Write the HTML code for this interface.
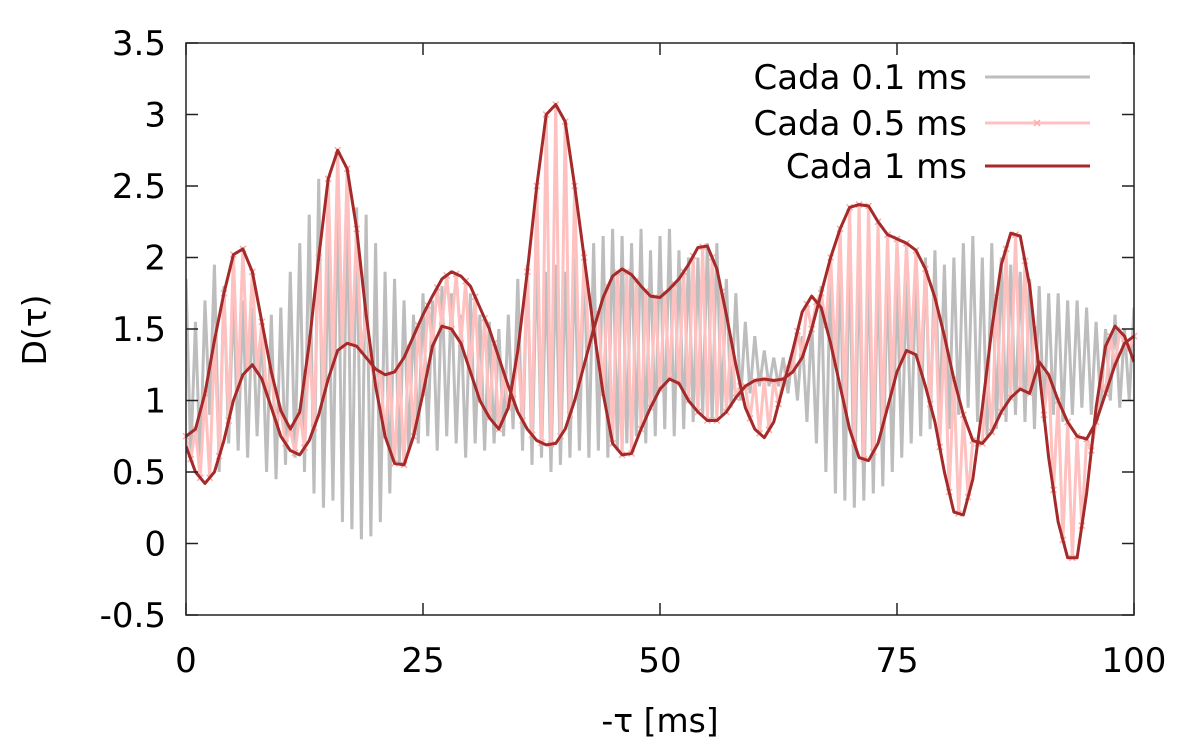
<!DOCTYPE html>
<html><head><meta charset="utf-8"><style>
body{margin:0;background:#fff}
svg{display:block;font-family:"DejaVu Sans","Liberation Sans",sans-serif}
</style></head><body>
<svg id="chart" width="1200" height="750" viewBox="0 0 1200 750" xmlns="http://www.w3.org/2000/svg">
<g id="gray"></g>
<g id="pink"></g>
<g id="dark"></g>
<g id="axes"></g>
<g id="legend"></g>
<text transform="translate(46,330) rotate(-90)" text-anchor="middle" font-size="33">D(τ)</text>
<text x="660" y="732" text-anchor="middle" font-size="33">-τ [ms]</text>
</svg>
<script>
const curveP=[0.68,0.5,0.42,0.5,0.72,1.0,1.18,1.25,1.15,0.95,0.75,0.65,0.62,0.72,0.9,1.15,1.35,1.4,1.38,1.3,1.22,1.18,1.2,1.3,1.45,1.6,1.73,1.85,1.9,1.87,1.8,1.65,1.5,1.3,1.1,0.92,0.8,0.72,0.69,0.7,0.8,1.0,1.25,1.5,1.72,1.87,1.92,1.88,1.8,1.73,1.72,1.78,1.85,1.95,2.07,2.08,1.92,1.6,1.25,0.95,0.8,0.74,0.85,1.1,1.35,1.62,1.73,1.65,1.4,1.1,0.8,0.6,0.58,0.7,0.95,1.2,1.35,1.32,1.1,0.85,0.5,0.22,0.2,0.45,0.95,1.5,1.95,2.17,2.15,1.8,1.2,0.6,0.15,-0.1,-0.1,0.35,0.95,1.38,1.52,1.45,1.27];
const curveQ=[0.75,0.8,1.05,1.42,1.75,2.02,2.06,1.9,1.55,1.2,0.93,0.8,0.92,1.4,2.0,2.55,2.75,2.62,2.2,1.6,1.1,0.75,0.56,0.55,0.75,1.05,1.38,1.52,1.5,1.4,1.2,1.0,0.88,0.8,0.95,1.35,1.9,2.5,3.0,3.07,2.95,2.5,2.0,1.5,1.05,0.7,0.62,0.63,0.8,0.95,1.08,1.15,1.12,1.0,0.92,0.86,0.86,0.92,1.02,1.1,1.14,1.15,1.14,1.15,1.2,1.3,1.5,1.75,2.0,2.2,2.35,2.37,2.36,2.25,2.16,2.13,2.1,2.05,1.92,1.72,1.45,1.15,0.9,0.72,0.7,0.78,0.92,1.02,1.08,1.05,1.27,1.18,1.0,0.85,0.75,0.73,0.85,1.05,1.25,1.4,1.45];
const grayHi=[1.85,1.55,1.7,1.95,1.8,1.75,1.7,1.65,1.55,1.6,1.65,1.9,2.1,2.3,2.55,2.1,2.5,2.45,2.35,2.3,2.1,1.9,1.85,1.7,1.6,1.75,1.7,1.8,1.75,1.6,1.75,1.6,1.55,1.5,1.6,1.85,1.95,2.05,1.9,1.95,1.9,2.0,2.05,2.1,2.15,2.2,2.15,2.1,2.2,2.05,2.15,2.2,2.05,2.0,2.0,2.1,2.1,1.85,1.75,1.55,1.45,1.35,1.3,1.3,1.35,1.45,1.55,1.8,1.95,2.05,2.1,2.05,2.0,1.95,1.9,1.85,1.85,1.9,2.0,2.05,1.95,2.0,2.1,2.15,2.0,2.1,2.0,1.95,1.9,1.85,1.8,1.75,1.75,1.7,1.7,1.65,1.55,1.5,1.6,1.5,1.65,1.0];
const grayLo=[0.6,0.55,0.9,0.5,0.7,0.65,0.6,0.75,0.5,0.45,0.55,0.6,0.5,0.35,0.25,0.3,0.15,0.1,0.03,0.05,0.15,0.35,0.55,0.65,0.7,0.75,0.65,0.75,0.7,0.6,0.7,0.65,0.7,0.75,0.8,0.65,0.55,0.6,0.5,0.55,0.6,0.65,0.6,0.65,0.6,0.65,0.7,0.75,0.7,0.75,0.8,0.75,0.8,0.85,0.9,0.85,0.9,0.95,1.0,1.05,1.1,1.1,1.1,1.05,1.0,0.85,0.7,0.5,0.35,0.3,0.25,0.3,0.35,0.4,0.5,0.6,0.7,0.75,0.8,0.85,0.8,0.9,0.95,0.85,0.75,0.8,0.85,0.9,0.85,0.8,0.85,0.9,0.85,0.9,0.95,0.9,0.95,1.0,0.95,1.0,1.0];
const yTicks=[-0.5,0,0.5,1,1.5,2,2.5,3,3.5];
const xTicks=[0,25,50,75,100];
const legendLabels=["Cada 0.1 ms","Cada 0.5 ms","Cada 1 ms"];

const NS="http://www.w3.org/2000/svg";
const X0=186,X1=1134,YT=43,YB=615;
const sx=t=>X0+(t-0)/(100-0)*(X1-X0);
const sy=v=>YB-(v-(-0.5))/(3.5-(-0.5))*(YB-YT);
function mk(tag,attrs,parent){const e=document.createElementNS(NS,tag);for(const k in attrs)e.setAttribute(k,attrs[k]);parent.appendChild(e);return e;}
const clip=mk('clipPath',{id:'pc'},document.getElementById('chart'));
mk('rect',{x:X0,y:YT,width:X1-X0,height:YB-YT},clip);

let gpts=[];
for(let k=0;k<grayHi.length;k++){gpts.push(sx(k)+','+sy(grayHi[k]));if(k<100)gpts.push(sx(k+0.5)+','+sy(grayLo[k]));}
const gl=mk('polyline',{points:gpts.join(' '),fill:'none',stroke:'#bdbdbd','stroke-width':3,'clip-path':'url(#pc)'},document.getElementById('gray'));



const pg=document.getElementById('pink');
let ppts=[];
for(let k=0;k<curveQ.length;k++){ppts.push([k,curveQ[k]]);if(k<100)ppts.push([k+0.5,(curveP[k]+curveP[k+1])/2]);}
const pl=mk('polyline',{points:ppts.map(p=>sx(p[0])+','+sy(p[1])).join(' '),fill:'none',stroke:'#ffc0c0','stroke-width':3,'clip-path':'url(#pc)'},pg);


ppts.forEach(p=>{const x=sx(p[0]),y=sy(p[1]);
 const m=mk('path',{d:`M${x-3},${y-3}L${x+3},${y+3}M${x-3},${y+3}L${x+3},${y-3}`,stroke:'#ffaaaa','stroke-width':1.5},pg);
 
 });

const dg=document.getElementById('dark');
[curveP,curveQ].forEach((c,i)=>{
 const l=mk('polyline',{points:c.map((v,k)=>sx(k)+','+sy(v)).join(' '),fill:'none',stroke:'#a52a2a','stroke-width':3,'stroke-linejoin':'round','clip-path':'url(#pc)'},dg);
 
 });

const ax=document.getElementById('axes');
const fr=mk('rect',{x:X0,y:YT,width:X1-X0,height:YB-YT,fill:'none',stroke:'#222','stroke-width':1.5},ax);


yTicks.forEach(v=>{const y=sy(v);
 mk('path',{d:`M${X0},${y}h12M${X1},${y}h-12`,stroke:'#222','stroke-width':1.5},ax);
 const t=mk('text',{x:166,y:y+12,'text-anchor':'end','font-size':34},ax);t.textContent=String(v);
 
 });
xTicks.forEach(v=>{const x=sx(v);
 mk('path',{d:`M${x},${YB}v-12M${x},${YT}v12`,stroke:'#222','stroke-width':1.5},ax);
 const t=mk('text',{x:x,y:672,'text-anchor':'middle','font-size':34},ax);t.textContent=String(v);
 
 });

const lg=document.getElementById('legend');
const cols=['#bdbdbd','#ffc0c0','#a52a2a'];
[77,123,166].forEach((y,i)=>{
 const t=mk('text',{x:967,y:y+12,'text-anchor':'end','font-size':34},lg);t.textContent=legendLabels[i];
 
 
 const l=mk('line',{x1:985,x2:1090,y1:y,y2:y,stroke:cols[i],'stroke-width':3},lg);
 
 
 if(i===1){mk('path',{d:`M1034,${y-3}l6,6M1034,${y+3}l6,-6`,stroke:'#ffaaaa','stroke-width':1.5},lg);}
});
</script>
</body></html>
